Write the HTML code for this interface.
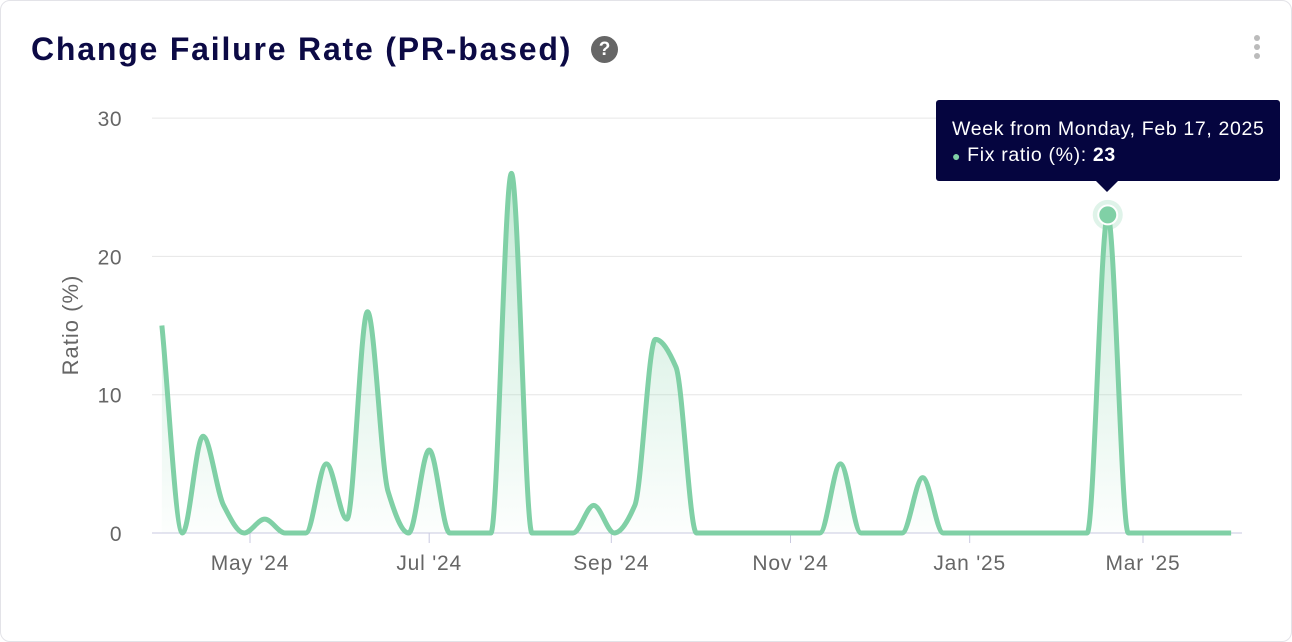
<!DOCTYPE html>
<html><head><meta charset="utf-8"><style>
html,body{margin:0;padding:0;background:#fff;}
body{width:1292px;height:626px;overflow:hidden;font-family:"Liberation Sans",sans-serif;position:relative;}
.card{position:absolute;left:0;top:0;width:1290px;height:640px;border:1px solid #e3e3e8;border-radius:10px;background:#fff;}
.title{position:absolute;left:31px;top:31px;font-size:32px;font-weight:bold;color:#0c0a45;letter-spacing:1.8px;white-space:nowrap;}
.help{position:absolute;left:591px;top:36px;width:27px;height:27px;border-radius:50%;background:#666;color:#fff;font-weight:bold;font-size:19px;text-align:center;line-height:27px;}
.kebab{position:absolute;left:1252px;top:35px;width:10px;height:30px;}
.kebab i{display:block;width:6px;height:6px;border-radius:50%;background:#bbb;margin:0 auto 3px;}
.tip{position:absolute;left:936px;top:100px;width:344px;height:81px;background:#05053f;border-radius:3px;color:#fff;font-size:19.5px;letter-spacing:0.65px;}
.tip .l1{position:absolute;left:16px;top:18px;white-space:nowrap;}
.tip .l2{position:absolute;left:16px;top:44px;white-space:nowrap;}
.tip .arrow{position:absolute;left:160px;top:81px;width:0;height:0;border-left:11px solid transparent;border-right:11px solid transparent;border-top:11px solid #05053f;}
</style></head><body>
<div class="card"></div>
<div class="title">Change Failure Rate (PR-based)</div>
<div class="help">?</div>
<div class="kebab"><i></i><i></i><i></i></div>
<svg id="chart" width="1292" height="626" style="position:absolute;left:0;top:0">
<defs><linearGradient id="g" x1="0" y1="0" x2="0" y2="1"><stop offset="0" stop-color="#80d0a6" stop-opacity="0.45"/><stop offset="1" stop-color="#80d0a6" stop-opacity="0.02"/></linearGradient></defs>
</svg>
<div class="tip">
<div class="l1">Week from Monday, Feb 17, 2025</div>
<div class="l2"><span style="color:#80d0a6;font-size:14px">●</span> Fix ratio (%): <b>23</b></div>
<div class="arrow"></div>
</div>
<script>
const values=[15,0,7,2,0,1,0,0,5,1,16,3,0,6,0,0,0,26,0,0,0,2,0,2,14,12,0,0,0,0,0,0,0,5,0,0,0,4,0,0,0,0,0,0,0,0,23,0,0,0,0,0,0];
const yTicks=[0,10,20,30];
const xTickLabels=["May '24","Jul '24","Sep '24","Nov '24","Jan '25","Mar '25"];
const xTickDates=["2024-05-01","2024-07-01","2024-09-01","2024-11-01","2025-01-01","2025-03-01"];
const startDate="2024-04-01";
const highlightIndex=46;
const NS="http://www.w3.org/2000/svg";
const svg=document.getElementById('chart');
const day=864e5, t0=Date.parse("2024-05-01"), PPD=2.9375;
function x(d){return 250+(Date.parse(d)-t0)/day*PPD;}
function xi(i){return x(startDate)+i*7*PPD;}
function y(v){return 533-v*13.83;}
function mk(tag,attrs){const e=document.createElementNS(NS,tag);for(const k in attrs)e.setAttribute(k,attrs[k]);svg.appendChild(e);return e;}
yTicks.forEach(v=>{
 const l=mk('line',{x1:152,x2:1242,y1:y(v),y2:y(v),stroke:v===0?'#c9c9e0':'#e6e6e6','stroke-width':1});
 
 
 const t=mk('text',{x:122,y:y(v)+8,'text-anchor':'end','font-size':21,fill:'#666','font-family':'Liberation Sans','letter-spacing':0.5});
 t.textContent=v;
 
 
});
xTickDates.forEach((d,i)=>{
 const l=mk('line',{x1:x(d),x2:x(d),y1:533,y2:543,stroke:'#c9c9e0'});
 
 
 const t=mk('text',{x:x(d),y:570,'text-anchor':'middle','font-size':21,fill:'#666','font-family':'Liberation Sans','letter-spacing':0.8});
 t.textContent=xTickLabels[i];
 
 
});
const yt=mk('text',{x:0,y:0,transform:'translate(78,325) rotate(-90)','text-anchor':'middle','font-size':22,fill:'#666','font-family':'Liberation Sans','letter-spacing':1});
yt.textContent='Ratio (%)';


const pts=values.map((v,i)=>[xi(i),y(v)]);
function monotone(p){const n=p.length,m=[],s=[];
 for(let i=0;i<n-1;i++)s.push((p[i+1][1]-p[i][1])/(p[i+1][0]-p[i][0]));
 m[0]=s[0];m[n-1]=s[n-2];
 for(let i=1;i<n-1;i++){const a=s[i-1],b=s[i];m[i]=(a*b<=0)?0:(2*a*b)/(a+b);}
 let d=`M${p[0][0]},${p[0][1]}`;
 for(let i=0;i<n-1;i++){const h=(p[i+1][0]-p[i][0])/3;
  d+=` C${p[i][0]+h},${p[i][1]+m[i]*h} ${p[i+1][0]-h},${p[i+1][1]-m[i+1]*h} ${p[i+1][0]},${p[i+1][1]}`;}
 return d;}
const d=monotone(pts);
const area=mk('path',{d:d+` L${pts[pts.length-1][0]},533 L${pts[0][0]},533 Z`,fill:'url(#g)'});


const line=mk('path',{d:d,fill:'none',stroke:'#80d0a6','stroke-width':5,'stroke-linejoin':'round'});


const hx=xi(highlightIndex),hy=y(values[highlightIndex]);
const halo=mk('circle',{cx:hx,cy:hy,r:15,fill:'#80d0a6','fill-opacity':0.25});


const pt=mk('circle',{cx:hx,cy:hy,r:9.5,fill:'#80d0a6',stroke:'#fff','stroke-width':2});


</script>
</body></html>
